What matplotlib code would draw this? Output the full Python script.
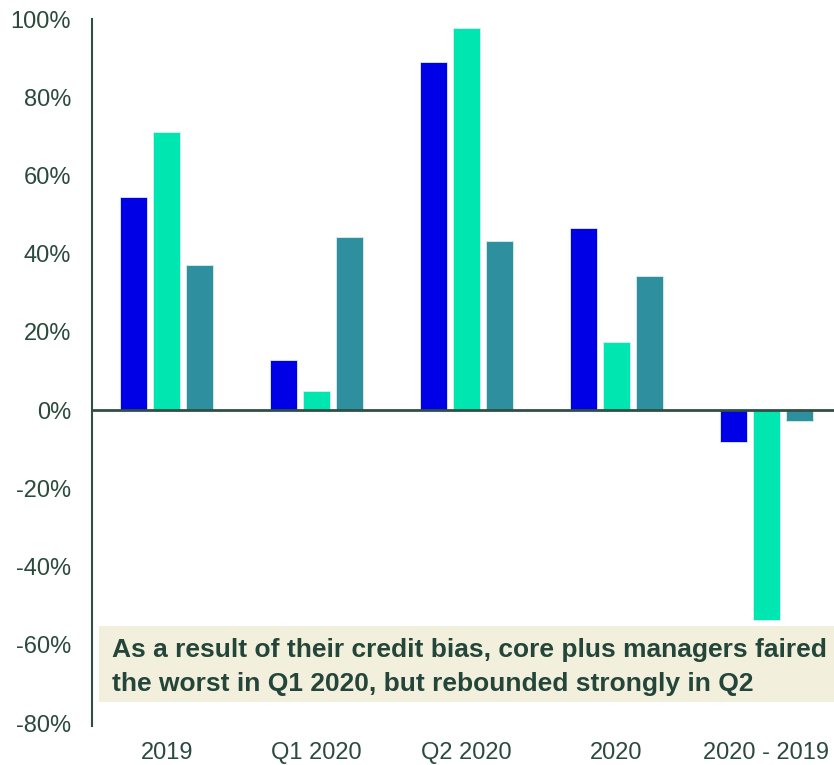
import matplotlib.pyplot as plt
from matplotlib.patches import Rectangle

plt.rcParams['font.family'] = ['Liberation Sans', 'DejaVu Sans']

# dados (%)
categorias = ['2019', 'Q1 2020', 'Q2 2020', '2020', '2020 - 2019']
serie_a = [54.5, 12.8, 89.0, 46.5, -8.1]
serie_b = [71.1, 4.9, 97.7, 17.5, -53.7]
serie_c = [37.1, 44.2, 43.3, 34.4, -2.8]
yticks = [-80, -60, -40, -20, 0, 20, 40, 60, 80, 100]

cores = ['#0000e6', '#00e6b0', '#2e909e']
texto_cor = '#2b4a3d'
nota = ('As a result of their credit bias, core plus managers faired\n'
        'the worst in Q1 2020, but rebounded strongly in Q2')

fig = plt.figure(figsize=(8.34, 7.65), dpi=100)
ax = fig.add_axes([92 / 834, 1 - 723 / 765, 1 - 92 / 834, (723 - 19) / 765])

x = list(range(len(categorias)))
larg = 0.18
desl = 0.22
for i, (serie, cor) in enumerate(zip([serie_a, serie_b, serie_c], cores)):
    pos = [xi + (i - 1) * desl for xi in x]
    ax.bar(pos, serie, width=larg, color=cor, edgecolor='#d8eef0', linewidth=0.6, zorder=2)

ax.axhline(0, color='#2f4f45', linewidth=2, zorder=3)

ax.set_xlim(-0.5, 4.453)
ax.set_ylim(-80, 100)
ax.set_yticks(yticks)
ax.set_yticklabels([f'{v}%' for v in yticks])
ax.set_xticks(x)
ax.set_xticklabels(categorias)
ax.tick_params(axis='y', length=0, pad=15, labelsize=17, labelcolor=texto_cor)
ax.tick_params(axis='x', length=0, pad=14, labelsize=17, labelcolor=texto_cor)

for s in ['top', 'right', 'bottom']:
    ax.spines[s].set_visible(False)
ax.spines['left'].set_color('#2f4f45')
ax.spines['left'].set_linewidth(1.5)
ax.spines['left'].set_bounds(-80.8, 100)

# caixa com a nota
caixa = Rectangle((99 / 834, 1 - 702 / 765), 1 - 99 / 834, 76 / 765,
                  transform=fig.transFigure, facecolor='#f2efdc', edgecolor='none',
                  zorder=4, clip_on=False)
ax.add_patch(caixa)
ax.text(112 / 834, 1 - 667 / 765, nota, transform=fig.transFigure,
        fontsize=19, fontweight='bold', color='#24463a', va='center', ha='left',
        linespacing=1.5, zorder=5)

fig.savefig('out.png', dpi=100)
